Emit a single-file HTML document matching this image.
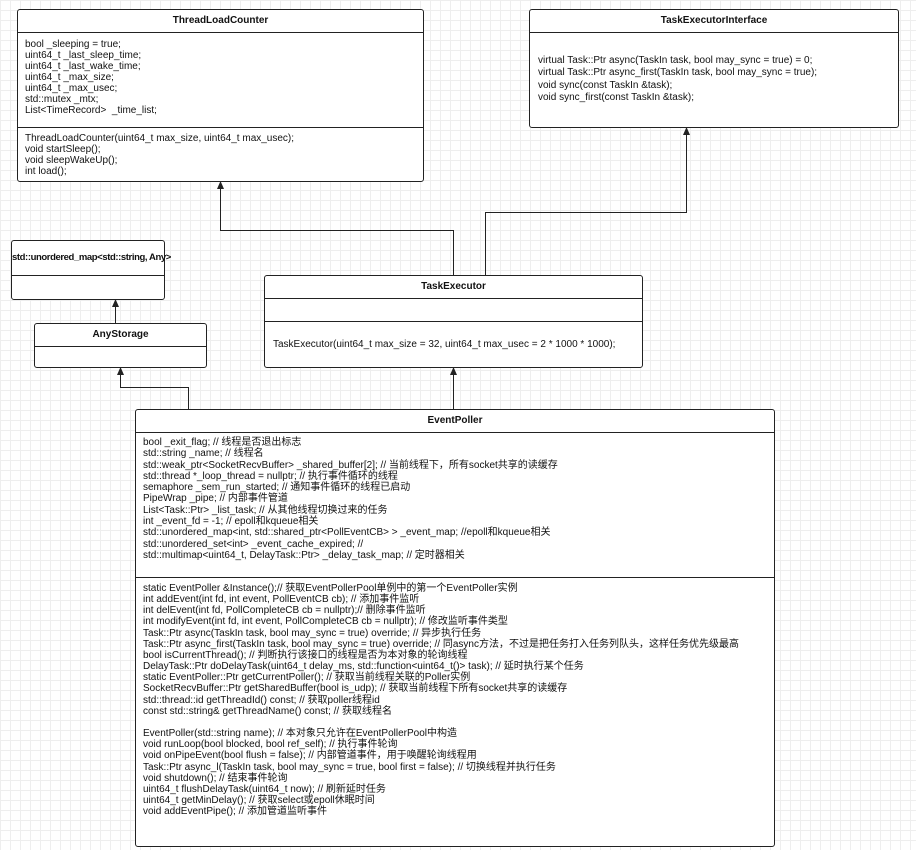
<!DOCTYPE html>
<html><head><meta charset="utf-8"><style>
body{margin:0;width:916px;height:850px;position:relative;overflow:hidden;background:#fff;
background-image:linear-gradient(#eee 1px,transparent 1px),linear-gradient(90deg,#eee 1px,transparent 1px);background-size:10px 10px;
font-family:"Liberation Sans","Noto Sans CJK SC",sans-serif;font-size:10px;color:#111}
.b{position:absolute;border:1px solid #222;border-radius:3px;background:#fff;box-sizing:border-box}
.h{position:absolute;left:0;right:0;font-weight:bold;text-align:center;border-bottom:1px solid #222;box-sizing:border-box;white-space:nowrap}
.d{position:absolute;left:0;right:0;border-top:1px solid #222}
.t{position:absolute;white-space:pre;line-height:11px}
svg{position:absolute;left:0;top:0}
</style></head><body>
<svg width="916" height="850">
<g stroke="#222" fill="none" stroke-width="1">
<path d="M453.5 275V230.5H220.5V188"/>
<path d="M485.5 275V212.5H686.5V134"/>
<path d="M115.5 323V306"/>
<path d="M188.5 409V387.5H120.5V374"/>
<path d="M453.5 409V374"/>
</g>
<g fill="#222">
<path d="M220.5 181l-3.5 8h7z"/><path d="M686.5 127l-3.5 8h7z"/><path d="M115.5 299l-3.5 8h7z"/><path d="M120.5 367l-3.5 8h7z"/><path d="M453.5 367l-3.5 8h7z"/>
</g></svg>

<div class="b" style="left:17px;top:9px;width:407px;height:173px">
<div class="h" style="top:0;height:23px;line-height:22px">ThreadLoadCounter</div>
<div class="t" style="left:7px;top:29px">bool _sleeping = true;
uint64_t _last_sleep_time;
uint64_t _last_wake_time;
uint64_t _max_size;
uint64_t _max_usec;
std::mutex _mtx;
List&lt;TimeRecord&gt;  _time_list;</div>
<div class="d" style="top:117px"></div>
<div class="t" style="left:7px;top:123px">ThreadLoadCounter(uint64_t max_size, uint64_t max_usec);
void startSleep();
void sleepWakeUp();
int load();</div>
</div>

<div class="b" style="left:529px;top:9px;width:370px;height:119px">
<div class="h" style="top:0;height:23px;line-height:22px">TaskExecutorInterface</div>
<div class="t" style="left:8px;top:45px;line-height:12.3px">virtual Task::Ptr async(TaskIn task, bool may_sync = true) = 0;
virtual Task::Ptr async_first(TaskIn task, bool may_sync = true);
void sync(const TaskIn &amp;task);
void sync_first(const TaskIn &amp;task);</div>
</div>

<div class="b" style="left:11px;top:240px;width:154px;height:60px">
<div class="h" style="top:0;height:35px;line-height:33px;font-size:9.5px;letter-spacing:-0.4px">std::unordered_map&lt;std::string, Any&gt;</div>
</div>

<div class="b" style="left:34px;top:323px;width:173px;height:45px">
<div class="h" style="top:0;height:23px;line-height:22px">AnyStorage</div>
</div>

<div class="b" style="left:264px;top:275px;width:379px;height:93px">
<div class="h" style="top:0;height:23px;line-height:22px">TaskExecutor</div>
<div class="d" style="top:45px"></div>
<div class="t" style="left:8px;top:63px">TaskExecutor(uint64_t max_size = 32, uint64_t max_usec = 2 * 1000 * 1000);</div>
</div>

<div class="b" style="left:135px;top:409px;width:640px;height:438px">
<div class="h" style="top:0;height:23px;line-height:22px">EventPoller</div>
<div class="t" style="left:7px;top:27px;line-height:11.3px">bool _exit_flag; // 线程是否退出标志
std::string _name; // 线程名
std::weak_ptr&lt;SocketRecvBuffer&gt; _shared_buffer[2]; // 当前线程下，所有socket共享的读缓存
std::thread *_loop_thread = nullptr; // 执行事件循环的线程
semaphore _sem_run_started; // 通知事件循环的线程已启动
PipeWrap _pipe; // 内部事件管道
List&lt;Task::Ptr&gt; _list_task; // 从其他线程切换过来的任务
int _event_fd = -1; // epoll和kqueue相关
std::unordered_map&lt;int, std::shared_ptr&lt;PollEventCB&gt; &gt; _event_map; //epoll和kqueue相关
std::unordered_set&lt;int&gt; _event_cache_expired; //
std::multimap&lt;uint64_t, DelayTask::Ptr&gt; _delay_task_map; // 定时器相关</div>
<div class="d" style="top:167px"></div>
<div class="t" style="left:7px;top:173px;line-height:11.15px">static EventPoller &amp;Instance();// 获取EventPollerPool单例中的第一个EventPoller实例
int addEvent(int fd, int event, PollEventCB cb); // 添加事件监听
int delEvent(int fd, PollCompleteCB cb = nullptr);// 删除事件监听
int modifyEvent(int fd, int event, PollCompleteCB cb = nullptr); // 修改监听事件类型
Task::Ptr async(TaskIn task, bool may_sync = true) override; // 异步执行任务
Task::Ptr async_first(TaskIn task, bool may_sync = true) override; // 同async方法，不过是把任务打入任务列队头，这样任务优先级最高
bool isCurrentThread(); // 判断执行该接口的线程是否为本对象的轮询线程
DelayTask::Ptr doDelayTask(uint64_t delay_ms, std::function&lt;uint64_t()&gt; task); // 延时执行某个任务
static EventPoller::Ptr getCurrentPoller(); // 获取当前线程关联的Poller实例
SocketRecvBuffer::Ptr getSharedBuffer(bool is_udp); // 获取当前线程下所有socket共享的读缓存
std::thread::id getThreadId() const; // 获取poller线程id
const std::string&amp; getThreadName() const; // 获取线程名

EventPoller(std::string name); // 本对象只允许在EventPollerPool中构造
void runLoop(bool blocked, bool ref_self); // 执行事件轮询
void onPipeEvent(bool flush = false); // 内部管道事件，用于唤醒轮询线程用
Task::Ptr async_l(TaskIn task, bool may_sync = true, bool first = false); // 切换线程并执行任务
void shutdown(); // 结束事件轮询
uint64_t flushDelayTask(uint64_t now); // 刷新延时任务
uint64_t getMinDelay(); // 获取select或epoll休眠时间
void addEventPipe(); // 添加管道监听事件</div>
</div>
</body></html>
